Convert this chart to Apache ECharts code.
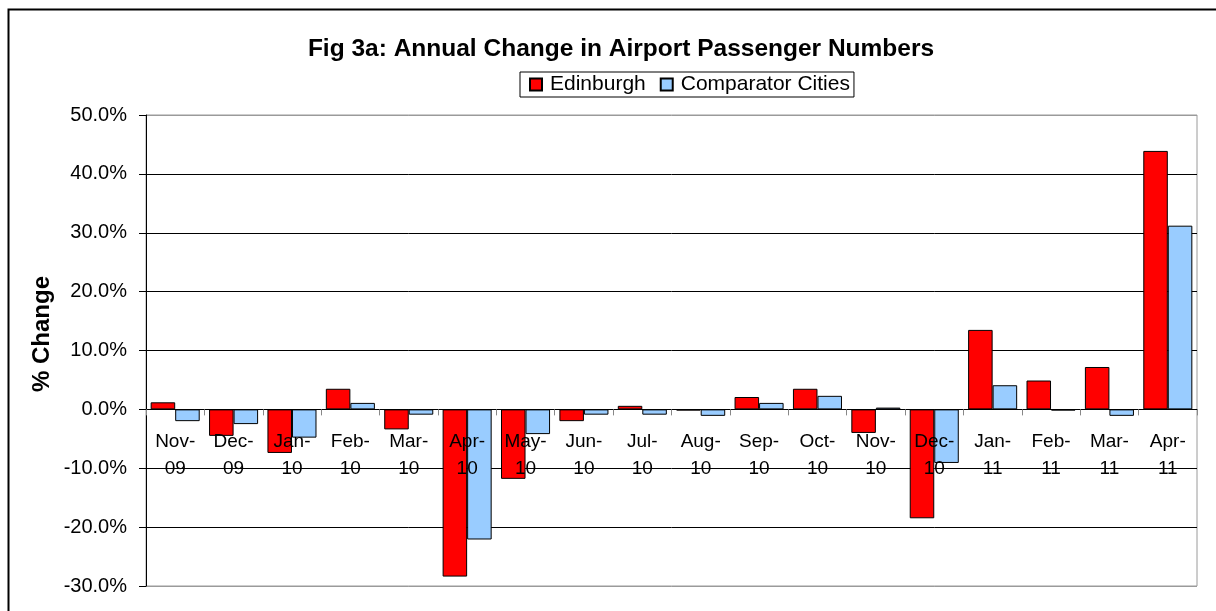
<!DOCTYPE html>
<html>
<head>
<meta charset="utf-8">
<script src="https://cdn.jsdelivr.net/npm/echarts@6/dist/echarts.min.js"></script>
<style>
  html, body { margin: 0; padding: 0; background: #fff; }
  #chart { width: 1216px; height: 611px; }
</style>
</head>
<body>
<div id="chart"></div>
<script>
const months = [
  "Nov-\n09", "Dec-\n09", "Jan-\n10", "Feb-\n10", "Mar-\n10", "Apr-\n10",
  "May-\n10", "Jun-\n10", "Jul-\n10", "Aug-\n10", "Sep-\n10", "Oct-\n10",
  "Nov-\n10", "Dec-\n10", "Jan-\n11", "Feb-\n11", "Mar-\n11", "Apr-\n11",
];
const edinburgh = [1.2, -4.5, -7.4, 3.5, -3.4, -28.4, -11.8, -2.0, 0.6, -0.2, 2.1, 3.5, -4.0, -18.5, 13.5, 4.9, 7.2, 43.9];
const comparator = [-2.0, -2.5, -4.8, 1.1, -0.9, -22.1, -4.2, -0.9, -0.9, -1.1, 1.1, 2.3, 0.3, -9.1, 4.1, -0.2, -1.1, 31.2];
const yMin = -30;
const yMax = 50;
const yStep = 10;

const FONT = "Liberation Sans, Arial, sans-serif";

const GRID_TOP = 115;
const GRID_BOTTOM = 25;
const CHART_H = 611;

// gridlines black, but the plot frame lines at min/max are grey
const splitColors = [];
for (let v = yMin; v <= yMax; v += yStep) {
  splitColors.push(v === yMin || v === yMax ? "#9a9a9a" : "#000");
}

// the category axis sits on the 0% line (v6 keeps the labels at the bottom with onZero)
const plotH = CHART_H - GRID_TOP - GRID_BOTTOM;
const zeroShift = plotH * (0 - yMin) / (yMax - yMin);

const chart = echarts.init(document.getElementById("chart"), null, { renderer: "canvas" });

chart.setOption({
  animation: false,
  backgroundColor: "#fff",
  title: {
    text: "Fig 3a: Annual Change in Airport Passenger Numbers",
    left: 616,
    top: 32,
    textAlign: "center",
    textStyle: { fontFamily: FONT, fontSize: 24.5, fontWeight: "bold", color: "#000" },
  },
  legend: {
    left: 520,
    top: 72,
    orient: "horizontal",
    icon: "rect",
    itemWidth: 12,
    itemHeight: 12,
    itemGap: 14,
    padding: [2, 4, 2, 9],
    borderColor: "#000",
    borderWidth: 1,
    textStyle: { fontFamily: FONT, fontSize: 21, color: "#000", padding: [0, 0, 0, 3] },
    data: ["Edinburgh", "Comparator Cities"],
  },
  graphic: [
    {
      type: "rect",
      shape: { x: 8.5, y: 9.5, width: 1400, height: 800 },
      style: { fill: null, stroke: "#000", lineWidth: 2 },
      silent: true,
      z: -1,
    },
    {
      type: "text",
      x: 42,
      y: 334,
      rotation: Math.PI / 2,
      style: {
        text: "% Change",
        fontFamily: FONT,
        fontSize: 24,
        fontWeight: "bold",
        fill: "#000",
        align: "center",
        verticalAlign: "middle",
      },
    },
  ],
  grid: {
    left: 146,
    right: 19,
    top: GRID_TOP,
    bottom: GRID_BOTTOM,
    outerBoundsMode: "none",
    containLabel: false,
    show: true,
    borderColor: "#9a9a9a",
    borderWidth: 1,
    backgroundColor: "#fff",
  },
  xAxis: {
    type: "category",
    data: months,
    z: 10,
    offset: -zeroShift,
    axisLine: { onZero: false, lineStyle: { color: "#000", width: 1 } },
    axisTick: { show: true, length: 6, lineStyle: { color: "#888" } },
    axisLabel: {
      interval: 0,
      margin: 19,
      fontFamily: FONT,
      fontSize: 19,
      lineHeight: 27,
      color: "#000",
    },
    splitLine: { show: false },
  },
  yAxis: {
    type: "value",
    min: yMin,
    max: yMax,
    interval: yStep,
    axisLine: { show: true, lineStyle: { color: "#000", width: 1 } },
    axisTick: { show: true, length: 7, lineStyle: { color: "#000" } },
    axisLabel: {
      margin: 19,
      fontFamily: FONT,
      fontSize: 20,
      color: "#000",
      formatter: (v) => v.toFixed(1) + "%",
    },
    splitLine: { show: true, lineStyle: { color: splitColors, width: 1 } },
  },
  series: [
    {
      name: "Edinburgh",
      type: "bar",
      data: edinburgh,
      barGap: "0%",
      barCategoryGap: "16%",
      itemStyle: { color: "#ff0000", borderColor: "#000", borderWidth: 1 },
    },
    {
      name: "Comparator Cities",
      type: "bar",
      data: comparator,
      barGap: "0%",
      barCategoryGap: "16%",
      itemStyle: { color: "#99ccff", borderColor: "#000", borderWidth: 1 },
    },
  ],
});
</script>
</body>
</html>
